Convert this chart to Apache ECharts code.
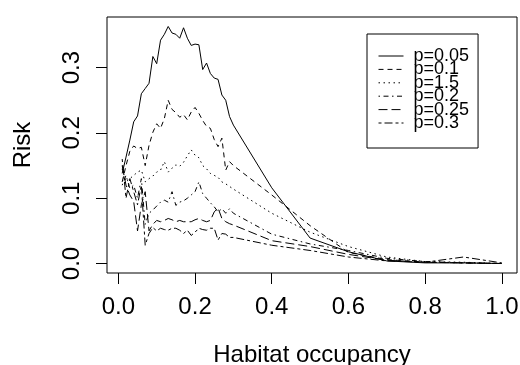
<!DOCTYPE html>
<html>
<head>
<meta charset="utf-8">
<script src="https://cdn.jsdelivr.net/npm/echarts@6/dist/echarts.min.js"></script>
<style>
html,body{margin:0;padding:0;background:#fff;}
#chart{width:520px;height:365px;}
</style>
</head>
<body>
<div id="chart"></div>
<script>
// habitat occupancy values (fine steps up to 0.3, then coarse)
var occupancy = [0.01,0.02,0.03,0.04,0.05,0.06,0.07,0.08,0.09,0.10,
    0.11,0.12,0.13,0.14,0.15,0.16,0.17,0.18,0.19,0.20,
    0.21,0.22,0.23,0.24,0.25,0.26,0.27,0.28,0.29,0.30,
    0.4,0.5,0.6,0.7,0.8,0.9,1.0];

var risk_p005 = [0.138,0.163,0.189,0.217,0.226,0.260,0.268,0.276,0.317,0.306,
    0.342,0.351,0.363,0.353,0.351,0.345,0.361,0.345,0.334,0.336,
    0.335,0.297,0.307,0.291,0.284,0.282,0.258,0.250,0.225,0.212,
    0.116,0.039,0.018,0.004,0.001,0.001,0.000];
var risk_p01 = [0.125,0.150,0.172,0.180,0.176,0.178,0.150,0.181,0.201,0.214,
    0.207,0.222,0.250,0.236,0.231,0.224,0.228,0.220,0.232,0.239,
    0.230,0.219,0.210,0.207,0.190,0.179,0.192,0.143,0.156,0.150,
    0.105,0.058,0.017,0.006,0.002,0.001,0.000];
var risk_p15 = [0.145,0.125,0.130,0.135,0.140,0.143,0.125,0.130,0.134,0.140,
    0.143,0.156,0.140,0.146,0.151,0.149,0.155,0.165,0.174,0.166,
    0.162,0.150,0.145,0.138,0.135,0.132,0.125,0.122,0.118,0.114,
    0.077,0.048,0.026,0.010,0.003,0.002,0.000];
var risk_p02 = [0.120,0.135,0.115,0.120,0.100,0.130,0.060,0.077,0.082,0.088,
    0.094,0.097,0.094,0.110,0.089,0.094,0.096,0.100,0.105,0.110,
    0.125,0.107,0.100,0.093,0.087,0.079,0.084,0.077,0.084,0.077,
    0.045,0.030,0.020,0.008,0.003,0.001,0.000];
var risk_p025 = [0.150,0.120,0.105,0.095,0.050,0.090,0.110,0.050,0.060,0.066,
    0.064,0.066,0.069,0.067,0.064,0.066,0.064,0.064,0.064,0.067,
    0.069,0.066,0.064,0.066,0.079,0.085,0.069,0.064,0.061,0.059,
    0.035,0.026,0.014,0.005,0.002,0.001,0.000];
var risk_p03 = [0.160,0.100,0.130,0.110,0.090,0.120,0.028,0.046,0.055,0.050,
    0.054,0.052,0.051,0.054,0.054,0.051,0.046,0.051,0.043,0.048,
    0.054,0.052,0.051,0.054,0.054,0.036,0.046,0.045,0.040,0.040,
    0.028,0.020,0.010,0.004,0.002,0.010,0.001];

var seriesNames = ['p=0.05','p=0.1','p=1.5','p=0.2','p=0.25','p=0.3'];
var xTicks = [0,0.2,0.4,0.6,0.8,1.0];
var yTicks = [0,0.1,0.2,0.3];

var font = 'Liberation Sans, Arial, sans-serif';
var dashes = ['solid',[5,4],[1.5,3.5],[1.5,3.5,5,3.5],[9,4],[3,3,8,3]];
var allRisk = [risk_p005,risk_p01,risk_p15,risk_p02,risk_p025,risk_p03];

function pairs(ys){
    return ys.map(function(y,i){ return [occupancy[i],y]; });
}

var series = [];
for(var i=0;i<allRisk.length;i++){
    series.push({
        name: seriesNames[i],
        type: 'line',
        data: pairs(allRisk[i]),
        symbol: 'none',
        animation: false,
        itemStyle: {color:'#000'},
        lineStyle: {color:'#000', width:1, type: dashes[i]}
    });
}

var myChart = echarts.init(document.getElementById('chart'));
option = {
    backgroundColor: '#fff',
    animation: false,
    grid: {left:107, top:17, right:3, bottom:92, containLabel:false, outerBoundsMode:'none',
        show:true, borderColor:'#000', borderWidth:1, backgroundColor:'transparent'},
    legend: {
        orient: 'vertical',
        left: 367, top: 34,
        padding: [13,9,16,11],
        itemGap: -4.6,
        itemWidth: 25, itemHeight: 14,
        borderColor: '#000', borderWidth: 1, borderRadius: 0,
        itemStyle: {opacity: 0},
        lineStyle: {width: 1},
        textStyle: {fontFamily: font, fontSize: 18, color:'#000', padding:[0,0,0,5]},
        data: seriesNames
    },
    xAxis: {
        type: 'value',
        min: -0.0296, max: 1.0396,
        name: 'Habitat occupancy',
        nameLocation: 'middle',
        nameGap: 70,
        nameMoveOverlap: false,
        nameTextStyle: {fontFamily: font, fontSize: 24, color:'#000'},
        axisLine: {show:false, onZero:false},
        axisTick: {show:true, inside:false, length:11, lineStyle:{color:'#000'}, customValues: xTicks},
        axisLabel: {fontFamily: font, fontSize: 24, color:'#000', margin: 22, customValues: xTicks,
            formatter: function(v){ return v.toFixed(1); }},
        splitLine: {show:false}
    },
    yAxis: {
        type: 'value',
        min: -0.0145, max: 0.3775,
        name: 'Risk',
        nameLocation: 'middle',
        nameGap: 72,
        nameRotate: 90,
        nameMoveOverlap: false,
        nameTextStyle: {fontFamily: font, fontSize: 24, color:'#000'},
        axisLine: {show:false, onZero:false},
        axisTick: {show:true, inside:false, length:11, lineStyle:{color:'#000'}, customValues: yTicks},
        axisLabel: {fontFamily: font, fontSize: 24, color:'#000', margin: 23, rotate: 90, customValues: yTicks,
            formatter: function(v){ return v.toFixed(1); }},
        splitLine: {show:false}
    },
    series: series
};
myChart.setOption(option);
</script>
</body>
</html>
